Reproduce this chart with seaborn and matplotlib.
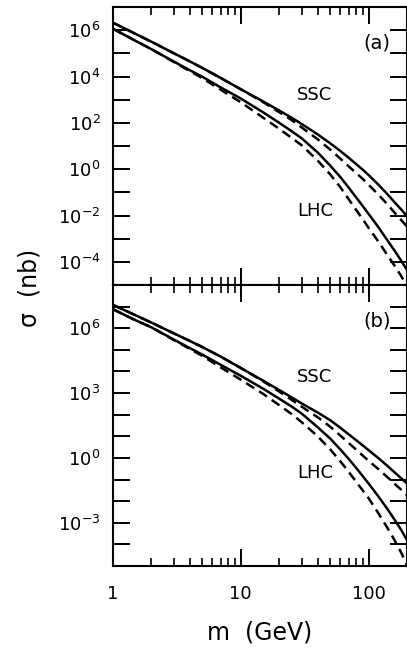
import numpy as np
import pandas as pd
import matplotlib
matplotlib.use("Agg")
import matplotlib.pyplot as plt
import matplotlib.ticker as mticker
import seaborn as sns

# ---- data (log10 of sigma in nb) ----
mass = [1, 1.5, 2, 3, 4, 5, 7, 10, 15, 20, 25, 30, 40, 50, 60, 70, 80, 90, 100, 120, 140, 160, 180, 200]

a_ssc_solid = [6.32, 5.84, 5.50, 5.00, 4.65, 4.37, 3.93, 3.45, 2.92, 2.53, 2.22, 1.95, 1.50, 1.12, 0.79, 0.49,
               0.22, -0.02, -0.25, -0.68, -1.07, -1.43, -1.74, -2.03]
a_ssc_dash = [6.32, 5.84, 5.50, 5.00, 4.65, 4.37, 3.93, 3.45, 2.89, 2.46, 2.12, 1.80, 1.29, 0.85, 0.46, 0.12,
              -0.17, -0.42, -0.67, -1.11, -1.51, -1.88, -2.19, -2.48]
a_lhc_solid = [6.06, 5.54, 5.18, 4.64, 4.27, 3.99, 3.52, 3.05, 2.45, 2.00, 1.64, 1.33, 0.72, 0.16, -0.33, -0.80,
               -1.22, -1.59, -1.93, -2.52, -3.06, -3.52, -3.95, -4.35]
a_lhc_dash = [6.06, 5.54, 5.18, 4.62, 4.23, 3.93, 3.42, 2.89, 2.22, 1.74, 1.35, 1.03, 0.37, -0.22, -0.77, -1.30,
              -1.76, -2.16, -2.53, -3.14, -3.70, -4.17, -4.61, -5.05]

b_ssc_solid = [7.08, 6.60, 6.26, 5.76, 5.41, 5.13, 4.68, 4.16, 3.57, 3.14, 2.80, 2.52, 2.10, 1.75, 1.40, 1.09,
               0.82, 0.58, 0.36, -0.02, -0.36, -0.67, -0.94, -1.19]
b_ssc_dash = [7.08, 6.60, 6.26, 5.76, 5.41, 5.13, 4.68, 4.16, 3.54, 3.07, 2.69, 2.37, 1.88, 1.45, 1.04, 0.69,
              0.38, 0.11, -0.13, -0.53, -0.88, -1.20, -1.47, -1.73]
b_lhc_solid = [6.88, 6.37, 6.04, 5.47, 5.08, 4.78, 4.30, 3.80, 3.20, 2.74, 2.38, 2.05, 1.42, 0.90, 0.40, -0.05,
               -0.46, -0.84, -1.18, -1.80, -2.35, -2.86, -3.33, -3.80]
b_lhc_dash = [6.88, 6.37, 6.04, 5.45, 5.04, 4.72, 4.18, 3.62, 2.96, 2.44, 2.03, 1.65, 1.00, 0.40, -0.15, -0.65,
              -1.10, -1.50, -1.86, -2.58, -3.22, -3.81, -4.38, -4.95]

x_ticklabels = ["1", "10", "100"]

sns.set_style("ticks")
plt.rcParams["font.family"] = ["DejaVu Sans"]
plt.rcParams.update({"text.color": "black", "axes.labelcolor": "black",
                     "xtick.color": "black", "ytick.color": "black"})

fig = plt.figure(figsize=(4.07, 6.51), dpi=100)
L, R = 113 / 407, 1.0
top_a, bot_a = 1 - 7 / 651, 1 - 285 / 651
bot_b = 1 - 566 / 651
ax_a = fig.add_axes([L, bot_a, R - L, top_a - bot_a])
ax_b = fig.add_axes([L, bot_b, R - L, bot_a - bot_b])

def make_df(series):
    rows = []
    for name, vals in series.items():
        for m, v in zip(mass, vals):
            rows.append({"m": m, "sigma": 10.0 ** v, "curve": name})
    return pd.DataFrame(rows)

lw = 1.8
dash = (3.8, 2.3)

def draw(ax, ssc_s, ssc_d, lhc_s, lhc_d, ylim, ydecades, labeled, tag, ssc_y, lhc_y, tag_y):
    df = make_df({"ssc_s": ssc_s, "ssc_d": ssc_d, "lhc_s": lhc_s, "lhc_d": lhc_d})
    sns.lineplot(data=df, x="m", y="sigma", hue="curve", style="curve",
                 palette={"ssc_s": "black", "ssc_d": "black", "lhc_s": "black", "lhc_d": "black"},
                 dashes={"ssc_s": "", "ssc_d": dash, "lhc_s": "", "lhc_d": dash},
                 linewidth=lw, legend=False, ax=ax, estimator=None)
    ax.set_xscale("log")
    ax.set_yscale("log")
    ax.set_xlim(1, 200)
    ax.set_ylim(*ylim)
    ax.set_xlabel("")
    ax.set_ylabel("")
    ax.yaxis.set_major_locator(mticker.FixedLocator([10.0 ** e for e in ydecades]))
    ax.yaxis.set_minor_locator(mticker.NullLocator())
    ax.yaxis.set_major_formatter(mticker.FuncFormatter(
        lambda v, p: (r"$\mathdefault{10^{%d}}$" % round(np.log10(v))).replace("-", "\u2212")
        if round(np.log10(v)) in labeled else ""))
    ax.xaxis.set_major_locator(mticker.FixedLocator([1, 10, 100]))
    ax.xaxis.set_minor_locator(mticker.LogLocator(base=10, subs=np.arange(2, 10), numticks=20))
    ax.tick_params(axis="y", which="major", direction="in", length=12, width=1.4,
                   left=True, right=True, labelsize=13, pad=9)
    ax.tick_params(axis="x", which="major", direction="in", length=12, width=1.4,
                   top=True, bottom=True, labelsize=13, pad=14)
    ax.tick_params(axis="x", which="minor", direction="in", length=6, width=1.2,
                   top=True, bottom=True)
    for s in ax.spines.values():
        s.set_linewidth(1.5)
        s.set_color("black")
    ax.text(315, ssc_y, "SSC", transform=None, fontsize=13, ha="center", va="center")
    ax.text(315, lhc_y, "LHC", transform=None, fontsize=13, ha="center", va="center")
    ax.text(377, tag_y, tag, transform=None, fontsize=14, ha="center", va="center")

H = 651
draw(ax_a, a_ssc_solid, a_ssc_dash, a_lhc_solid, a_lhc_dash, (1e-5, 1e7),
     range(-4, 7), {6, 4, 2, 0, -2, -4}, "(a)", H - 95, H - 211, H - 43)
draw(ax_b, b_ssc_solid, b_ssc_dash, b_lhc_solid, b_lhc_dash, (1e-5, 1e8),
     range(-4, 8), {6, 3, 0, -3}, "(b)", H - 377, H - 473, H - 321)

ax_a.tick_params(axis="x", labelbottom=False)
ax_b.set_xticklabels(x_ticklabels)
ax_b.set_xlabel("m  (GeV)", fontsize=17, labelpad=12)
fig.text(30 / 407, 1 - 288 / 651, "σ  (nb)", rotation=90, fontsize=17, ha="center", va="center")

fig.savefig("out.png", dpi=100)
